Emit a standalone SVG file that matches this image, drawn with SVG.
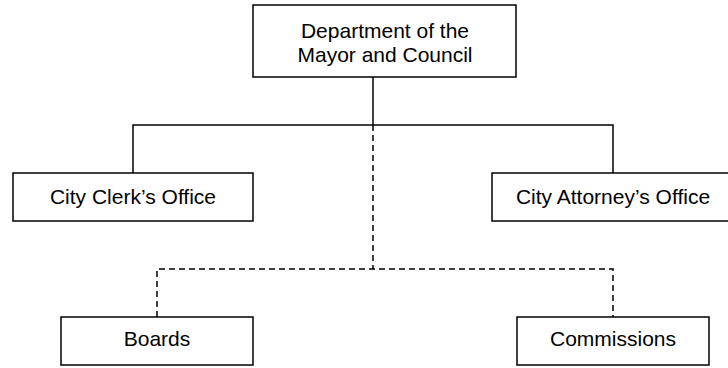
<svg xmlns="http://www.w3.org/2000/svg" width="728" height="368" viewBox="0 0 728 368">
<style>
.box{fill:#fff;stroke:#000;stroke-width:1.5}
.t{font-family:"Liberation Sans",Arial,sans-serif;font-size:21px;fill:#000;text-anchor:middle}
.c{fill:none;stroke:#000;stroke-width:1.5}
.d{stroke-dasharray:6,4}
</style>
<rect width="728" height="368" fill="#fff"/>
<g id="connectors">
<path class="c" d="M373 77V125M133 173V125H613V173"/>
<path class="c d" d="M373 125V269M157 317V269H613V317"/>
</g>
<g id="dept"><rect class="box" x="253" y="5" width="263" height="72"/><text class="t" x="385" y="38">Department of the</text><text class="t" x="385" y="62">Mayor and Council</text></g>
<g id="clerk"><rect class="box" x="13" y="173" width="240" height="48"/><text class="t" x="133" y="204">City Clerk’s Office</text></g>
<g id="attorney"><rect class="box" x="492" y="173" width="242" height="48"/><text class="t" x="613" y="204">City Attorney’s Office</text></g>
<g id="boards"><rect class="box" x="61" y="317" width="192" height="48"/><text class="t" x="157" y="346">Boards</text></g>
<g id="commissions"><rect class="box" x="517" y="317" width="192" height="48"/><text class="t" x="613" y="346">Commissions</text></g>
</svg>
